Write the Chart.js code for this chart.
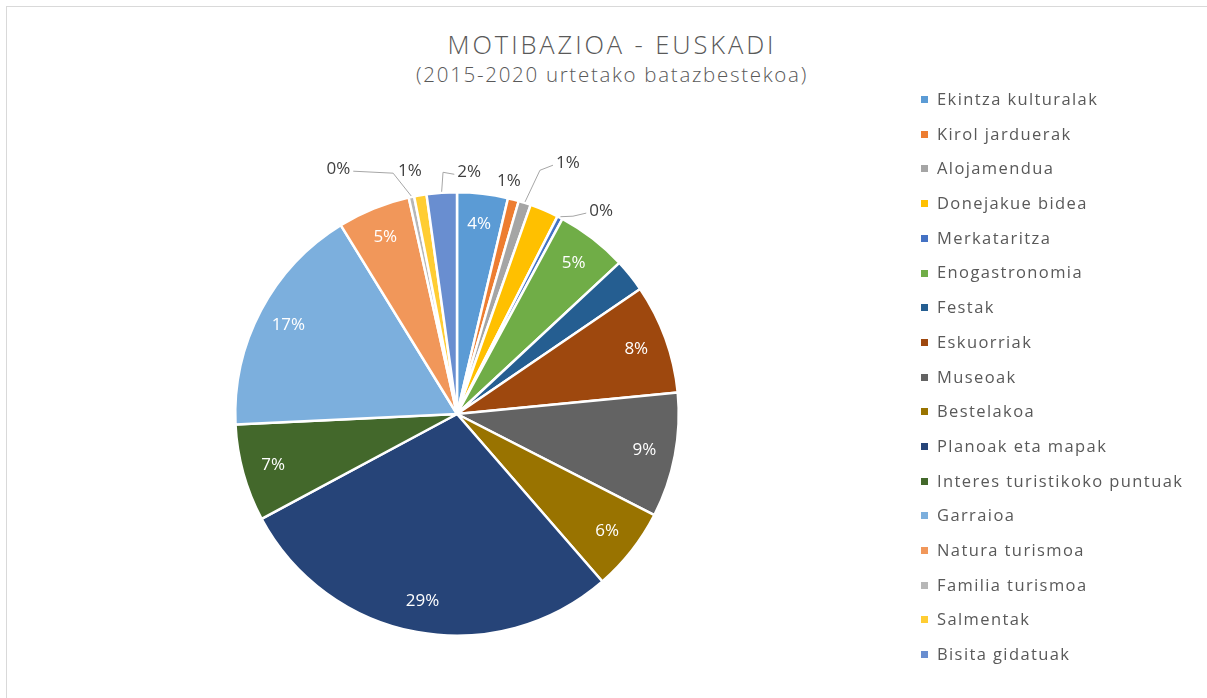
<!DOCTYPE html>
<html>
<head>
<meta charset="utf-8"/>
<style>
  html,body{margin:0;padding:0;background:#fff;}
  .wrap{position:relative;width:1207px;height:698px;overflow:hidden;background:#fff;}
  .frame{position:absolute;left:6px;top:6px;width:1300px;height:800px;border:1px solid #d9d9d9;box-sizing:border-box;}
  canvas{position:absolute;left:0;top:0;}
  .title{position:absolute;left:312px;width:600px;text-align:center;color:#595959;font-family:"Open Sans",sans-serif;font-weight:300;}
  .t1{top:27px;font-size:25.5px;letter-spacing:2.9px;}
  .t2{top:60px;font-size:20.5px;letter-spacing:1.7px;}
  .legend{position:absolute;left:921px;top:86px;font-family:"Open Sans",sans-serif;font-size:16.5px;letter-spacing:1.4px;color:#595959;}
  .legend div{height:34.7px;line-height:26px;white-space:nowrap;}
  .legend span{display:inline-block;width:7px;height:7px;margin-right:9px;vertical-align:middle;position:relative;top:-1px;}
</style>
</head>
<body>
<div class="wrap">
  <div class="frame"></div>
  <div class="title t1">MOTIBAZIOA - EUSKADI</div>
  <div class="title t2">(2015-2020 urtetako batazbestekoa)</div>
  <canvas id="c" width="1207" height="698"></canvas>
  <div class="legend" id="legend"></div>
</div>
<script src="https://cdn.jsdelivr.net/npm/chart.js@4.4.0/dist/chart.umd.min.js"></script>
<script>
const categories = ['Ekintza kulturalak','Kirol jarduerak','Alojamendua','Donejakue bidea','Merkataritza',
  'Enogastronomia','Festak','Eskuorriak','Museoak','Bestelakoa','Planoak eta mapak',
  'Interes turistikoko puntuak','Garraioa','Natura turismoa','Familia turismoa','Salmentak','Bisita gidatuak'];
// percentage share
const shares = [3.7, 0.8, 0.9, 2.1, 0.4, 5.2, 2.4, 8.0, 9.1, 6.1, 28.6, 7.1, 17.0, 5.3, 0.4, 0.9, 2.2];
const colors = ['#5B9BD5','#ED7D31','#A5A5A5','#FFC000','#4472C4','#70AD47','#255E91','#9E480E',
  '#636363','#997300','#264478','#43682B','#7CAFDD','#F1975A','#B7B7B7','#FFCD33','#698ED0'];
// slices whose label was removed in the original
const hiddenLabels = [3, 6];

// outside labels: position (lx,ly) and optional elbow (ex,ey), in units of radius from the center
const callouts = {
  1:  {lx: 0.234, ly: -1.05},
  2:  {lx: 0.50,  ly: -1.131, ex: 0.374, ey: -1.099},
  4:  {lx: 0.65,  ly: -0.915, ex: 0.523, ey: -0.892},
  14: {lx: -0.535, ly: -1.104, ex: -0.288, ey: -1.086},
  15: {lx: -0.212, ly: -1.095},
  16: {lx: 0.055, ly: -1.09, ex: -0.063, ey: -1.09}
};

const total = shares.reduce((a, b) => a + b, 0);
const pctText = v => Math.round(v / total * 100) + '%';

const labelPlugin = {
  id: 'pieLabels',
  afterDatasetsDraw(chart) {
    const ctx = chart.ctx;
    const arcs = chart.getDatasetMeta(0).data;
    ctx.save();
    ctx.font = '17px "Open Sans", sans-serif';
    ctx.textAlign = 'center';
    ctx.textBaseline = 'middle';
    arcs.forEach((arc, i) => {
      if (hiddenLabels.includes(i)) return;
      const { x, y, startAngle, endAngle, outerRadius: R } = arc.getProps(['x','y','startAngle','endAngle','outerRadius'], true);
      const mid = (startAngle + endAngle) / 2;
      const txt = pctText(shares[i]);
      const c = callouts[i];
      if (!c) {
        ctx.fillStyle = '#ffffff';
        ctx.fillText(txt, x + Math.cos(mid) * R * 0.86, y + Math.sin(mid) * R * 0.86);
        return;
      }
      const lx = x + c.lx * R, ly = y + c.ly * R;
      if (c.ex !== undefined) {
        const w = ctx.measureText(txt).width;
        const sx = x + Math.cos(mid) * (R + 1), sy = y + Math.sin(mid) * (R + 1);
        const exx = x + c.ex * R, eyy = y + c.ey * R;
        const endX = exx < lx ? lx - w / 2 - 3 : lx + w / 2 + 3;
        ctx.strokeStyle = '#a6a6a6';
        ctx.lineWidth = 1;
        ctx.beginPath();
        ctx.moveTo(sx, sy);
        ctx.lineTo(exx, eyy);
        ctx.lineTo(endX, ly + 2);
        ctx.stroke();
      }
      ctx.fillStyle = '#404040';
      ctx.fillText(txt, lx, ly);
    });
    ctx.restore();
  }
};

new Chart(document.getElementById('c'), {
  type: 'pie',
  data: {
    labels: categories,
    datasets: [{
      data: shares,
      backgroundColor: colors,
      borderColor: '#ffffff',
      borderWidth: 2.5
    }]
  },
  options: {
    responsive: false,
    animation: false,
    layout: { padding: { left: 0, right: 293, top: 191, bottom: 61 } },
    plugins: { legend: { display: false }, tooltip: { enabled: false } }
  },
  plugins: [labelPlugin]
});

const leg = document.getElementById('legend');
categories.forEach((name, i) => {
  const row = document.createElement('div');
  row.innerHTML = '<span style="background:' + colors[i] + '"></span>' + name;
  leg.appendChild(row);
});
</script>
</body>
</html>
